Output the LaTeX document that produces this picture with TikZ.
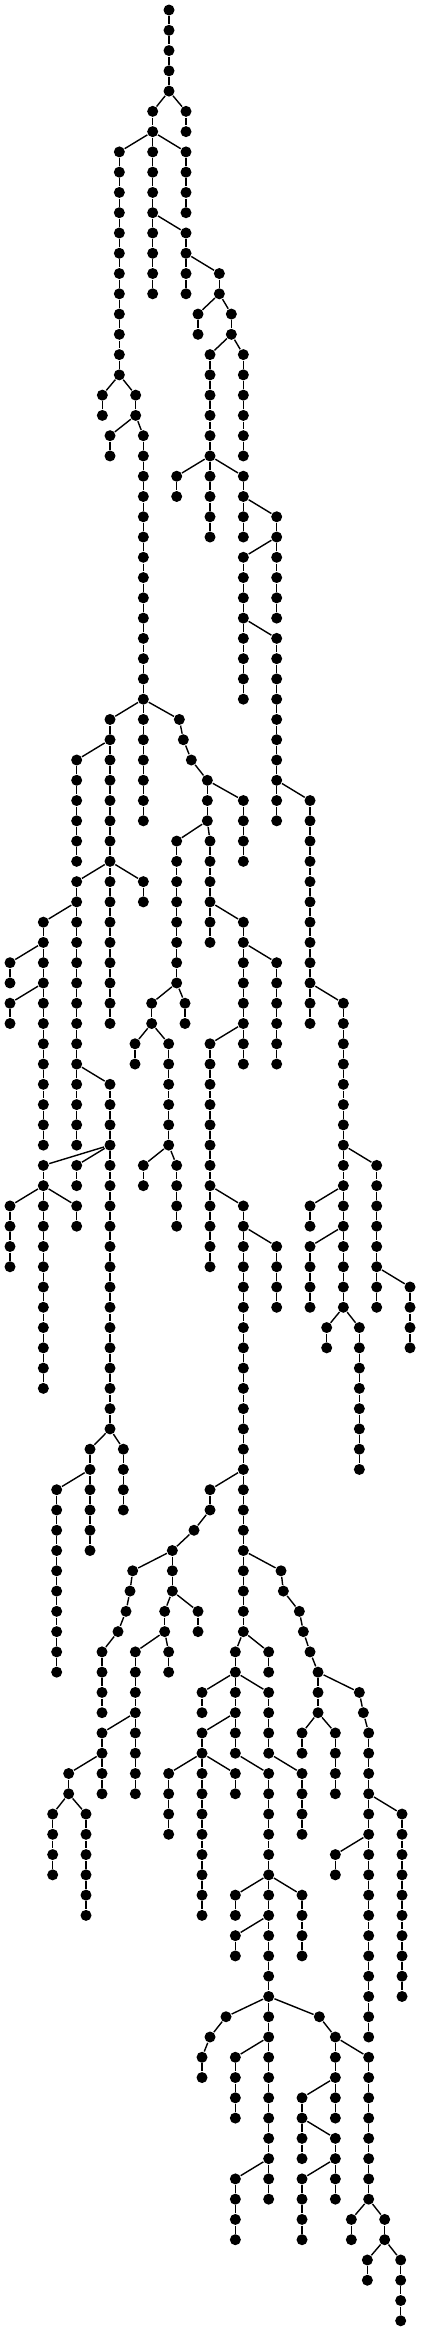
\documentclass[tikz,border=0pt]{standalone}
\usepackage{tikz}

% a vertical run of dots in one column, joined one below the other
\newcommand{\trunk}[3]{%
  \foreach \l in {#2,...,#3}{\node[dot] (n#1-\l) at (#1,\l) {};}%
  \foreach \l [remember=\l as \p (initially #2)] in {#2,...,#3}{%
    \ifnum\l>#2\relax \draw[edge] (n#1-\p) -- (n#1-\l);\fi}%
}
% a new run hanging from column #1 one level above its first dot
\newcommand{\branch}[4]{%
  \trunk{#2}{#3}{#4}%
  \pgfmathtruncatemacro{\plev}{#3-1}%
  \draw[edge] (n#1-\plev) -- (n#2-#3);%
}

\begin{document}
\begin{tikzpicture}[x=0.0333333mm, y=-2.027mm,
    dot/.style={circle, fill=black, draw=none, inner sep=0pt, minimum size=1.1mm},
    edge/.style={line width=0.4pt, black}]
    \useasboundingbox (0mm,1mm) rectangle (42mm,-232.1mm);

    % top part
    \trunk{507}{0}{4}
    \branch{507}{458}{5}{14}
    \branch{507}{558}{5}{6}
    \branch{458}{358}{7}{18}
    \branch{458}{558}{7}{10}
    \branch{458}{558}{11}{14}
    \branch{558}{658}{13}{14}
    \branch{658}{594}{15}{16}
    \branch{658}{694}{15}{16}
    \branch{694}{630}{17}{26}
    \branch{694}{730}{17}{22}
    \branch{358}{307}{19}{20}
    \branch{358}{407}{19}{20}
    \branch{407}{330}{21}{22}
    \branch{407}{430}{21}{40}
    \branch{630}{530}{23}{24}
    \branch{630}{730}{23}{26}
    \branch{730}{830}{25}{30}
    \branch{830}{730}{27}{34}
    \branch{730}{830}{31}{40}
    \branch{830}{930}{39}{50}
    \branch{930}{1030}{49}{64}
    \branch{1030}{1130}{57}{64}
    \branch{1030}{930}{59}{60}
    \branch{1030}{930}{61}{64}
    \branch{1130}{1230}{63}{66}
    \branch{1030}{980}{65}{66}
    \branch{1030}{1078}{65}{72}

    % middle part
    \branch{430}{330}{35}{50}
    \branch{430}{538}{35}{35}
    \branch{538}{550}{36}{36}
    \branch{550}{574}{37}{37}
    \branch{574}{622}{38}{40}
    \branch{622}{730}{39}{42}
    \branch{622}{530}{41}{48}
    \branch{622}{630}{41}{46}
    \branch{630}{730}{45}{52}
    \branch{730}{830}{47}{52}
    \branch{330}{230}{37}{42}
    \branch{330}{230}{43}{56}
    \branch{330}{430}{43}{44}
    \branch{230}{130}{45}{56}
    \branch{130}{30}{47}{48}
    \branch{130}{30}{49}{50}
    \branch{230}{330}{53}{70}
    \branch{330}{130}{57}{68}
    \branch{330}{230}{57}{58}
    \branch{130}{30}{59}{62}
    \branch{130}{230}{59}{60}
    \branch{330}{270}{71}{76}
    \branch{330}{370}{71}{74}
    \branch{270}{170}{73}{82}
    \branch{530}{455}{49}{50}
    \branch{530}{555}{49}{50}
    \branch{455}{405}{51}{52}
    \branch{455}{506}{51}{56}
    \branch{506}{430}{57}{58}
    \branch{506}{530}{57}{60}
    \branch{730}{630}{51}{62}
    \branch{630}{730}{59}{80}
    \branch{730}{830}{61}{64}
    \branch{730}{630}{73}{74}
    \branch{630}{582}{75}{75}
    \branch{582}{517}{76}{78}

    % lower left part
    \branch{517}{398}{77}{77}
    \branch{398}{390}{78}{78}
    \branch{390}{378}{79}{79}
    \branch{378}{354}{80}{80}
    \branch{354}{306}{81}{84}
    \branch{517}{494}{79}{80}
    \branch{517}{594}{79}{80}
    \branch{494}{406}{81}{88}
    \branch{494}{506}{81}{82}
    \branch{406}{306}{85}{88}
    \branch{306}{206}{87}{88}
    \branch{206}{158}{89}{92}
    \branch{206}{258}{89}{94}

    % lower middle part
    \branch{730}{706}{81}{86}
    \branch{730}{806}{81}{82}
    \branch{706}{606}{83}{84}
    \branch{706}{806}{83}{86}
    \branch{706}{606}{85}{94}
    \branch{606}{506}{87}{90}
    \branch{606}{706}{87}{88}
    \branch{706}{806}{87}{108}
    \branch{806}{906}{87}{90}
    \branch{806}{706}{93}{94}
    \branch{806}{906}{93}{96}
    \branch{806}{706}{95}{96}
    \branch{806}{678}{99}{99}
    \branch{678}{630}{100}{100}
    \branch{630}{606}{101}{102}
    \branch{806}{958}{99}{99}
    \branch{958}{1006}{100}{104}
    \branch{806}{706}{101}{104}
    \branch{1006}{1106}{101}{108}
    \branch{1006}{906}{103}{106}
    \branch{906}{1006}{105}{108}
    \branch{806}{706}{107}{110}
    \branch{1006}{906}{107}{110}
    \branch{1106}{1054}{109}{110}
    \branch{1106}{1154}{109}{110}
    \branch{1154}{1102}{111}{112}
    \branch{1154}{1202}{111}{114}

    % lower right part
    \branch{730}{843}{77}{77}
    \branch{843}{850}{78}{78}
    \branch{850}{898}{79}{79}
    \branch{898}{910}{80}{80}
    \branch{910}{930}{81}{81}
    \branch{930}{954}{82}{84}
    \branch{954}{1078}{83}{83}
    \branch{1078}{1090}{84}{84}
    \branch{1090}{1106}{85}{100}
    \branch{954}{906}{85}{86}
    \branch{954}{1006}{85}{88}
    \branch{1106}{1206}{89}{98}
    \branch{1106}{1006}{91}{92}
\end{tikzpicture}
\end{document}
